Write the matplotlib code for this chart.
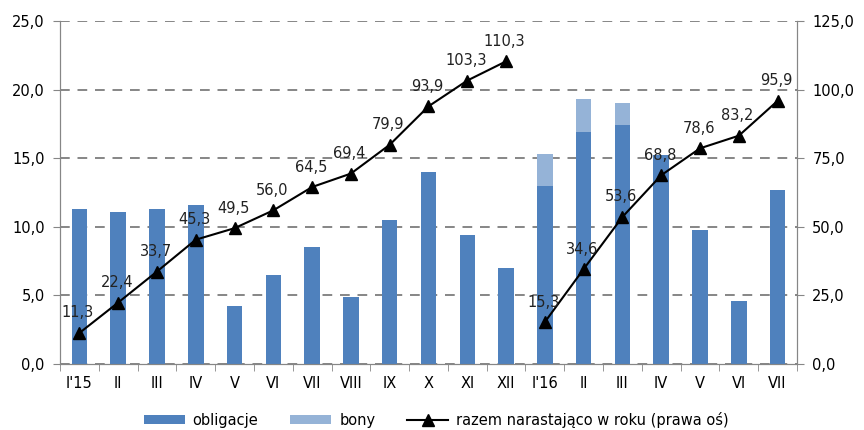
import numpy as np
import matplotlib
matplotlib.use("Agg")
import matplotlib.pyplot as plt
from matplotlib.ticker import FuncFormatter

# --------------------- DANE --------------------- #
miesiace = ["I'15", "II", "III", "IV", "V", "VI", "VII", "VIII", "IX", "X", "XI", "XII",
            "I'16", "II", "III", "IV", "V", "VI", "VII"]
obligacje = [11.3, 11.1, 11.3, 11.6, 4.2, 6.5, 8.5, 4.9, 10.5, 14.0, 9.4, 7.0,
             13.0, 16.9, 17.4, 15.2, 9.8, 4.6, 12.7]
bony = [0, 0, 0, 0, 0, 0, 0, 0, 0, 0, 0, 0,
        2.3, 2.4, 1.6, 0, 0, 0, 0]
narastajaco_2015 = [11.3, 22.4, 33.7, 45.3, 49.5, 56.0, 64.5, 69.4, 79.9, 93.9, 103.3, 110.3]
narastajaco_2016 = [15.3, 34.6, 53.6, 68.8, 78.6, 83.2, 95.9]

c_obl = "#4F81BD"
c_bony = "#95B3D7"
szary = "#868686"

plt.rcParams["font.family"] = "DejaVu Sans"
plt.rcParams["font.size"] = 10.5

fig = plt.figure(figsize=(8.64, 4.30), dpi=100)
ax = fig.add_axes([60 / 864, 1 - 364 / 430, (797 - 60) / 864, (364 - 21) / 430])
ax2 = ax.twinx()

x = np.arange(len(miesiace))
ax.bar(x, obligacje, width=0.4, color=c_obl, label="obligacje", zorder=3)
ax.bar(x, bony, width=0.4, bottom=obligacje, color=c_bony, label="bony", zorder=3)

# linia narastająco - osobno dla każdego roku
x15 = x[:len(narastajaco_2015)]
x16 = x[len(narastajaco_2015):]
ln, = ax2.plot(x15, narastajaco_2015, color="black", lw=1.5, marker="^", ms=8,
               label="razem narastająco w roku (prawa oś)")
ax2.plot(x16, narastajaco_2016, color="black", lw=1.5, marker="^", ms=8)

def fmt(v):
    return f"{v:.1f}".replace(".", ",")

for xi, v in list(zip(x15, narastajaco_2015)) + list(zip(x16, narastajaco_2016)):
    ax2.annotate(fmt(v), (xi, v), xytext=(-1, 9), textcoords="offset points",
                 ha="center", va="bottom", fontsize=10.5, color="#222222")

# osie
ax.set_xlim(-0.5, len(miesiace) - 0.5)
ax.set_ylim(0, 25)
ax2.set_ylim(0, 125)
ax.set_yticks(np.arange(0, 25.1, 5))
ax2.set_yticks(np.arange(0, 125.1, 25))
ax.yaxis.set_major_formatter(FuncFormatter(lambda v, p: fmt(v)))
ax2.yaxis.set_major_formatter(FuncFormatter(lambda v, p: fmt(v)))

ax.set_xticks(x)
ax.set_xticklabels(miesiace)
ax.set_xticks(np.arange(-0.5, len(miesiace)), minor=True)
ax.tick_params(axis="x", which="major", length=0, pad=9)
ax.tick_params(axis="x", which="minor", length=5, color=szary)
ax.tick_params(axis="y", length=5, color=szary, pad=6)
ax2.tick_params(axis="y", length=5, color=szary, pad=6)

ax.grid(axis="y", color=szary, ls=(0, (5, 4)), lw=1.4, zorder=0)
for a in (ax, ax2):
    a.spines["top"].set_visible(False)
    for s in ("left", "right", "bottom"):
        a.spines[s].set_color(szary)
ax.set_zorder(ax2.get_zorder() - 1)
ax2.patch.set_visible(False)
ax.patch.set_visible(False)

# legenda
h1, l1 = ax.get_legend_handles_labels()
fig.legend(h1 + [ln], l1 + [ln.get_label()], loc="lower center",
           bbox_to_anchor=(0.505, -0.025), ncol=3, frameon=False,
           handlelength=2.8, handleheight=0.6, handletextpad=0.55,
           columnspacing=2.2, fontsize=10.5)

fig.savefig("out.png", dpi=100)
